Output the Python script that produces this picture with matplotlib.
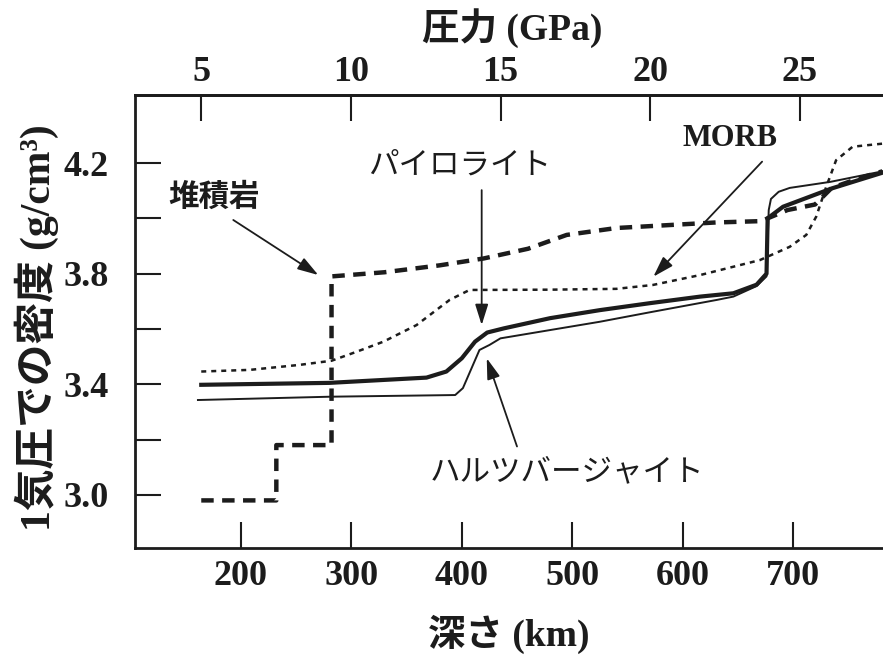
import numpy as np
import matplotlib
matplotlib.use('Agg')
import matplotlib.pyplot as plt
from matplotlib.ticker import FixedLocator, FormatStrFormatter

# depth (km) / density at 1 atm (g/cm3)
sed_d = [164, 232, 232, 282, 282, 330, 380, 420, 460, 495, 540, 585, 630, 672, 677, 695, 720, 735, 760, 781]
sed_r = [2.98, 2.98, 3.18, 3.18, 3.79, 3.805, 3.83, 3.855, 3.89, 3.94, 3.965, 3.975, 3.985, 3.99, 4.0, 4.03, 4.05, 4.11, 4.145, 4.17]

pyr_d = [164, 280, 368, 386, 400, 412, 423, 438, 480, 525, 570, 616, 646, 667, 676, 677, 691, 735, 781]
pyr_r = [3.398, 3.405, 3.424, 3.446, 3.494, 3.554, 3.587, 3.602, 3.639, 3.668, 3.693, 3.717, 3.729, 3.76, 3.80, 4.0, 4.042, 4.108, 4.165]

har_d = [161, 281, 394, 401, 416, 425, 435, 480, 525, 570, 631, 646, 667, 676, 678, 680, 687, 697, 734, 781]
har_r = [3.343, 3.355, 3.361, 3.386, 3.524, 3.542, 3.566, 3.596, 3.626, 3.66, 3.705, 3.717, 3.755, 3.79, 4.03, 4.07, 4.096, 4.11, 4.132, 4.17]

morb_d = [164, 208, 253, 282, 305, 329, 359, 389, 407, 480, 540, 573, 616, 670, 697, 712, 721, 730, 739, 754, 781]
morb_r = [3.446, 3.452, 3.47, 3.485, 3.518, 3.554, 3.614, 3.705, 3.741, 3.742, 3.745, 3.759, 3.795, 3.849, 3.897, 3.94, 4.006, 4.113, 4.21, 4.259, 4.27]

depth_ticks = [200, 300, 400, 500, 600, 700]
dens_major = [3.0, 3.4, 3.8, 4.2]
dens_minor = [3.2, 3.6, 4.0]
press_ticks = [5, 10, 15, 20, 25]

SERIF = 'Liberation Serif'
JP = 'Noto Sans CJK JP'
plt.rcParams['font.family'] = [SERIF, JP]
ink = '#1c1c1c'

fig = plt.figure(figsize=(8.83, 6.61), dpi=100)
ax = fig.add_axes([0.1529, 0.1710, 0.8471, 0.6853])

ax.plot(har_d, har_r, color=ink, lw=1.4)
ax.plot(pyr_d, pyr_r, color=ink, lw=3.0)
ax.plot(morb_d, morb_r, color=ink, lw=1.8, linestyle=(0, (2, 2)))
ax.plot(sed_d, sed_r, color=ink, lw=3.2, linestyle=(0, (2.8, 1.9)))

ax.set_xlim(104, 781.5)
ax.set_ylim(2.808, 4.446)

ax.xaxis.set_major_locator(FixedLocator(depth_ticks))
ax.yaxis.set_major_locator(FixedLocator(dens_major))
ax.yaxis.set_minor_locator(FixedLocator(dens_minor))
ax.yaxis.set_major_formatter(FormatStrFormatter('%.1f'))

ax.tick_params(which='both', direction='in', length=19, width=1.5, color=ink,
               top=False, right=False)
ax.tick_params(axis='x', pad=9, labelsize=26)
ax.tick_params(axis='y', pad=19, labelsize=26)
for lab in ax.get_xticklabels() + ax.get_yticklabels():
    lab.set_fontweight('bold')
    lab.set_color(ink)

for s in ['left', 'bottom', 'top']:
    ax.spines[s].set_linewidth(2.0)
    ax.spines[s].set_color(ink)
ax.spines['right'].set_visible(False)

# pressure scale on top (linear in depth on this figure)
def d2p(d):
    return 5 + (np.asarray(d) - 163.8) * 20 / 542.5

def p2d(p):
    return 163.8 + (np.asarray(p) - 5) * 542.5 / 20

sec = ax.secondary_xaxis('top', functions=(d2p, p2d))
sec.set_xticks(press_ticks)
sec.tick_params(direction='in', length=19, width=1.5, color=ink, pad=4, labelsize=26)
for lab in sec.get_xticklabels():
    lab.set_fontweight('bold')
    lab.set_color(ink)
sec.spines['top'].set_linewidth(2.0)
sec.spines['top'].set_color(ink)

# axis titles
fig.text(0.580, 0.958, '圧力 (GPa)', ha='center', va='center', fontsize=27,
         fontweight='bold', color=ink)
fig.text(0.576, 0.040, '深さ (km)', ha='center', va='center', fontsize=27,
         fontweight='bold', color=ink)
fig.text(0.042, 0.5045, '1気圧での密度 (g/cm³)', ha='center', va='center', fontsize=30,
         fontweight='bold', color=ink, rotation=90)

# labels and arrows
ax.text(175.5, 4.077, '堆積岩', ha='center', va='center', fontsize=22,
        fontweight='bold', color=ink, family=[JP])
ax.text(398, 4.193, 'パイロライト', ha='center', va='center', fontsize=22,
        color=ink, family=[JP])
ax.text(643, 4.287, 'MORB', ha='center', va='center', fontsize=22,
        fontweight='bold', color=ink, family=[SERIF])
ax.text(495, 3.083, 'ハルツバージャイト', ha='center', va='center', fontsize=22,
        color=ink, family=[JP])

arrows = [((193, 3.994), (270, 3.795)),
          ((418, 4.102), (418, 3.614)),
          ((672, 4.205), (573.5, 3.789)),
          ((450, 3.175), (422.6, 3.494))]
for start, end in arrows:
    ax.annotate('', xy=end, xytext=start,
                arrowprops=dict(arrowstyle='-|>,head_length=0.7,head_width=0.22',
                                color=ink, lw=1.3, shrinkA=0, shrinkB=0,
                                mutation_scale=18))

fig.savefig('out.png', dpi=100)
